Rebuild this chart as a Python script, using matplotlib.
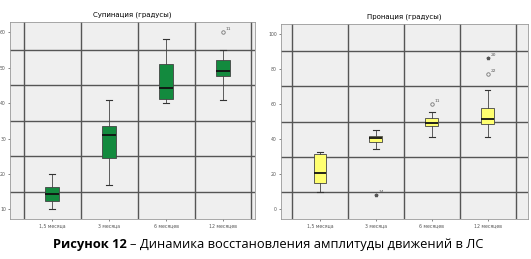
import matplotlib.pyplot as plt

# Данные
periods = ['1,5 месяца', '3 месяца', '6 месяцев', '12 месяцев']

sup_low = [10, 17, 40, 41]
sup_q1 = [12.4, 24.6, 41.1, 47.7]
sup_med = [14.2, 31, 44.2, 49.2]
sup_q3 = [16.4, 33.5, 51.1, 52.1]
sup_high = [20, 41, 58, 55]
sup_out = [[], [], [], [(60, '11', 'o')]]

pro_low = [10, 34.5, 41, 41]
pro_q1 = [15.2, 38.5, 47.4, 48.4]
pro_med = [21, 40.4, 49.3, 51.2]
pro_q3 = [31.3, 41.9, 52.2, 57.5]
pro_high = [32.8, 45.4, 55.2, 68]
pro_out = [[], [(8.2, '14', '*')], [(59.8, '11', 'o')], [(77, '22', 'o'), (86, '20', '*')]]


def draw_box(ax, low, q1, med, q3, high, outl, color, width, yticks, grid, ylim, xlim, title):
    ax.set_facecolor('#efefef')
    stats = []
    for i in range(len(periods)):
        stats.append({'whislo': low[i], 'q1': q1[i], 'med': med[i], 'q3': q3[i],
                      'whishi': high[i], 'fliers': []})
    ax.bxp(stats, positions=range(1, 5), widths=width, patch_artist=True,
           showfliers=False, capwidths=0.1,
           boxprops=dict(facecolor=color, edgecolor='#444444', linewidth=0.6),
           medianprops=dict(color='#111111', linewidth=1.3),
           whiskerprops=dict(color='#444444', linewidth=0.6),
           capprops=dict(color='#333333', linewidth=0.8), zorder=3)

    # выбросы
    for i, pts in enumerate(outl):
        for v, lab, m in pts:
            if m == 'o':
                ax.plot(i + 1, v, 'o', mfc='none', mec='#777777', ms=2.5, mew=0.6, zorder=4)
            else:
                ax.plot(i + 1, v, '*', color='#555555', ms=2.5, zorder=4)
            ax.text(i + 1.05, v + (ylim[1] - ylim[0]) * 0.01, lab, fontsize=3.2, color='#555555')

    for g in grid:
        ax.axhline(g, color='#555555', lw=1.0, zorder=1)
    for x in [0.5, 1.5, 2.5, 3.5, 4.5]:
        ax.axvline(x, color='#555555', lw=1.0, zorder=1)

    ax.set_xlim(xlim)
    ax.set_ylim(ylim)
    ax.set_yticks(yticks)
    ax.set_xticks(range(1, 5))
    ax.set_xticklabels(periods)
    ax.tick_params(labelsize=3.3, length=1.5, width=0.5, pad=1.5, colors='#555555')
    for s in ax.spines.values():
        s.set_color('#999999')
        s.set_linewidth(0.6)
    ax.set_title(title, fontsize=5, pad=4, family='DejaVu Sans')


fig = plt.figure(figsize=(5.31, 2.59), dpi=100)
ax1 = fig.add_axes([0.019, 0.154, 0.461, 0.761])
ax2 = fig.add_axes([0.529, 0.154, 0.465, 0.753])

draw_box(ax1, sup_low, sup_q1, sup_med, sup_q3, sup_high, sup_out, '#138a3e', 0.25,
         [10, 20, 30, 40, 50, 60], [15, 25, 35, 45, 55], (7.25, 62.9), (0.26, 4.56),
         'Супинация (градусы)')
draw_box(ax2, pro_low, pro_q1, pro_med, pro_q3, pro_high, pro_out, '#ffff70', 0.23,
         [0, 20, 40, 60, 80, 100], [10, 30, 50, 70, 90], (-5.5, 105.5), (0.3, 4.72),
         'Пронация (градусы)')

# подпись рисунка: жирная часть + обычный текст сразу после неё
t1 = fig.text(0.1, 0.055, 'Рисунок 12', fontsize=9.3, fontweight='bold', family='Open Sans',
              ha='left', va='center')
fig.canvas.draw()
bb = t1.get_window_extent(fig.canvas.get_renderer())
x2 = bb.x1 / fig.bbox.width + 0.006
fig.text(x2, 0.055, '– Динамика восстановления амплитуды движений в ЛС',
         fontsize=9.3, family='Open Sans', ha='left', va='center')

plt.savefig('out.png', dpi=100)
